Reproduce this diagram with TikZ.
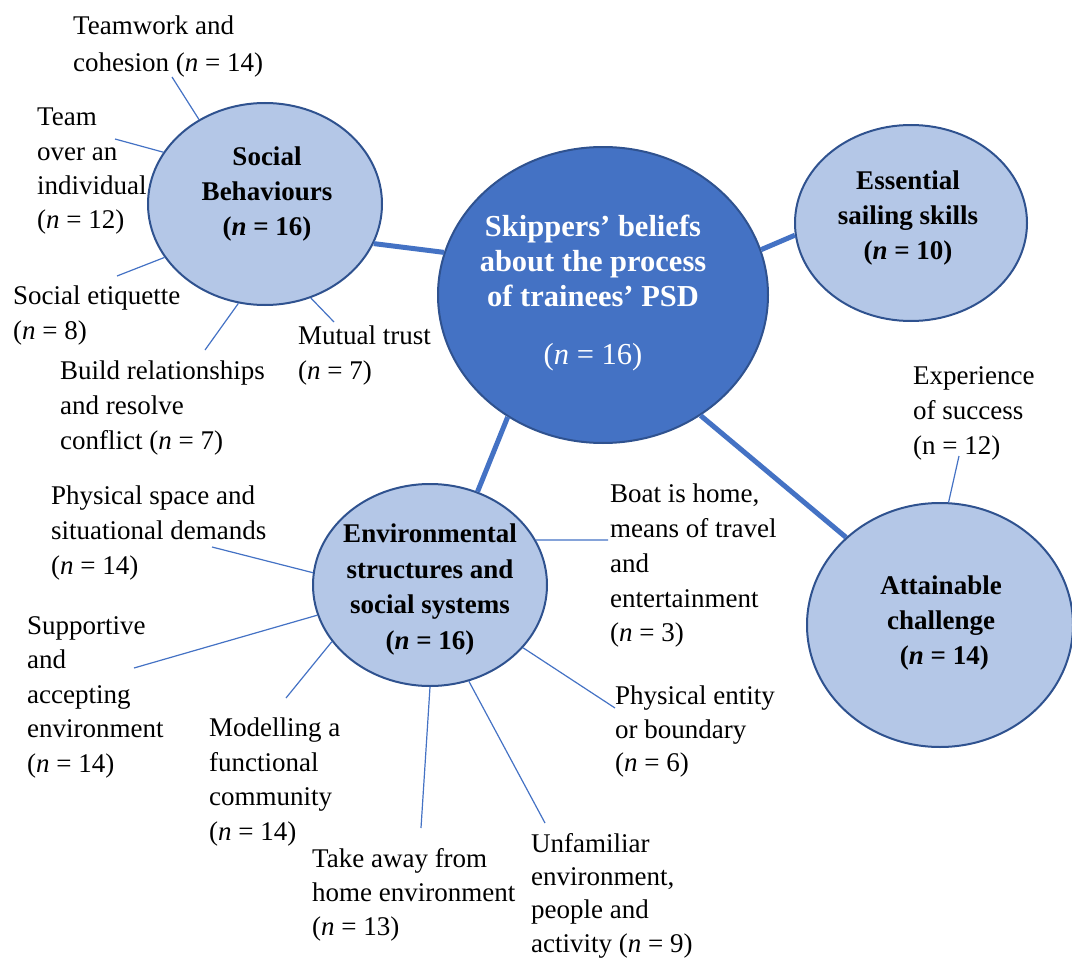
\documentclass[tikz,border=0pt]{standalone}
\usepackage{fontspec}
\setmainfont{Liberation Serif}
\usetikzlibrary{shapes.geometric}
\definecolor{mainblue}{HTML}{4472C4}
\definecolor{darkblue}{HTML}{2F528F}
\definecolor{lightblue}{HTML}{B4C7E7}
\begin{document}
\begin{tikzpicture}[x=1pt,y=-1pt,
  bubble/.style={ellipse, draw=darkblue, line width=2pt, fill=lightblue, inner sep=0pt},
  hub/.style={ellipse, draw=darkblue, line width=2pt, fill=mainblue, inner sep=0pt},
  thickline/.style={draw=mainblue, line width=5pt},
  thinline/.style={draw=mainblue, line width=1.2pt},
  lbl/.style={anchor=north west, inner sep=0pt, align=left, font=\fontsize{27}{35}\selectfont, execute at begin node=\strut},
  ctext/.style={anchor=north, inner sep=0pt, align=center, font=\fontsize{27}{35}\selectfont\bfseries, execute at begin node=\strut},
]
\useasboundingbox (0,0) rectangle (1072,958);

% bubbles
\node[hub, minimum width=330pt, minimum height=296pt] (ce) at (603,295) {};
\node[bubble, minimum width=234pt, minimum height=202pt] (sb) at (265,204) {};
\node[bubble, minimum width=232pt, minimum height=196pt] (es) at (911,223) {};
\node[bubble, minimum width=266pt, minimum height=244pt] (at) at (940,625) {};
\node[bubble, minimum width=234pt, minimum height=202pt] (env) at (430,585) {};

% bubble texts
\node[ctext, text=white, font=\fontsize{30.5}{35}\selectfont\bfseries] (cet) at (593,215)
  {Skippers’ beliefs\\about the process\\of trainees’ PSD\\[23pt]{\mdseries(\textit{n} = 16)}};
\node[ctext] (sbt) at (267,147) {Social\\Behaviours\\(\textit{n} = 16)};
\node[ctext] (est) at (908,171) {Essential\\sailing skills\\(\textit{n} = 10)};
\node[ctext] (att) at (941,576) {Attainable\\challenge\\\ (\textit{n} = 14)};
\node[ctext, font=\fontsize{27}{35.5}\selectfont\bfseries] (envt) at (430,524) {Environmental\\structures and\\social systems\\(\textit{n} = 16)};

% main connectors
\draw[thickline] (sb.-20) -- (ce.165);
\draw[thickline] (ce.16) -- (es.186);
\draw[thickline] (ce.-128) -- (env.63);
\draw[thickline] (ce.-51) -- (at.137);

% labels
\node[lbl, font=\fontsize{27}{36.5}\selectfont] (l1) at (73,16) {Teamwork and\\cohesion (\textit{n} = 14)};
\node[lbl, font=\fontsize{27}{34.3}\selectfont] (l2) at (37,108) {Team\\over an\\individual\\(\textit{n} = 12)};
\node[lbl] (l3) at (13,286) {Social etiquette\\(\textit{n} = 8)};
\node[lbl] (l4) at (60,361) {Build relationships\\and resolve\\conflict (\textit{n} = 7)};
\node[lbl] (l5) at (298,326) {Mutual trust\\(\textit{n} = 7)};
\node[lbl] (l6) at (51,486) {Physical space and\\situational demands\\(\textit{n} = 14)};
\node[lbl, font=\fontsize{27}{34.5}\selectfont] (l7) at (27,616) {Supportive\\and\\accepting\\environment\\(\textit{n} = 14)};
\node[lbl, font=\fontsize{27}{34.5}\selectfont] (l8) at (209,718) {Modelling a\\functional\\community\\(\textit{n} = 14)};
\node[lbl, font=\fontsize{27}{34}\selectfont] (l9) at (312,848) {Take away from\\home environment\\(\textit{n} = 13)};
\node[lbl, font=\fontsize{27}{33.3}\selectfont] (l10) at (531,833) {Unfamiliar\\environment,\\people and\\activity (\textit{n} = 9)};
\node[lbl, font=\fontsize{27}{34.7}\selectfont] (l11) at (610,484) {Boat is home,\\means of travel\\and\\entertainment\\(\textit{n} = 3)};
\node[lbl, font=\fontsize{27}{33.5}\selectfont] (l12) at (615,686) {Physical entity\\or boundary\\(\textit{n} = 6)};
\node[lbl] (l13) at (913,366) {Experience\\of success\\(n = 12)};

% free ends of thin connectors
\coordinate (e1) at (172,77);
\coordinate (e2) at (115,139);
\coordinate (e3) at (117,276);
\coordinate (e4) at (205,350);
\coordinate (e5) at (334,322);
\coordinate (e6) at (212,547);
\coordinate (e7) at (134,668);
\coordinate (e8) at (286,698);
\coordinate (e9) at (421,828);
\coordinate (e10) at (545,823);
\coordinate (e11) at (608,540);
\coordinate (e12) at (615,708);
\coordinate (e13) at (959,456);

% thin connectors
\draw[thinline] (sb.128) -- (e1);
\draw[thinline] (sb.153) -- (e2);
\draw[thinline] (sb.208) -- (e3);
\draw[thinline] (sb.255) -- (e4);
\draw[thinline] (sb.-64) -- (e5);
\draw[thinline] (env.174) -- (e6);
\draw[thinline] (env.195) -- (e7);
\draw[thinline] (env.210) -- (e8);
\draw[thinline] (env.270) -- (e9);
\draw[thinline] (env.-68) -- (e10);
\draw[thinline] (env.23) -- (e11);
\draw[thinline] (env.-34) -- (e12);
\draw[thinline] (at.86) -- (e13);
\end{tikzpicture}
\end{document}
